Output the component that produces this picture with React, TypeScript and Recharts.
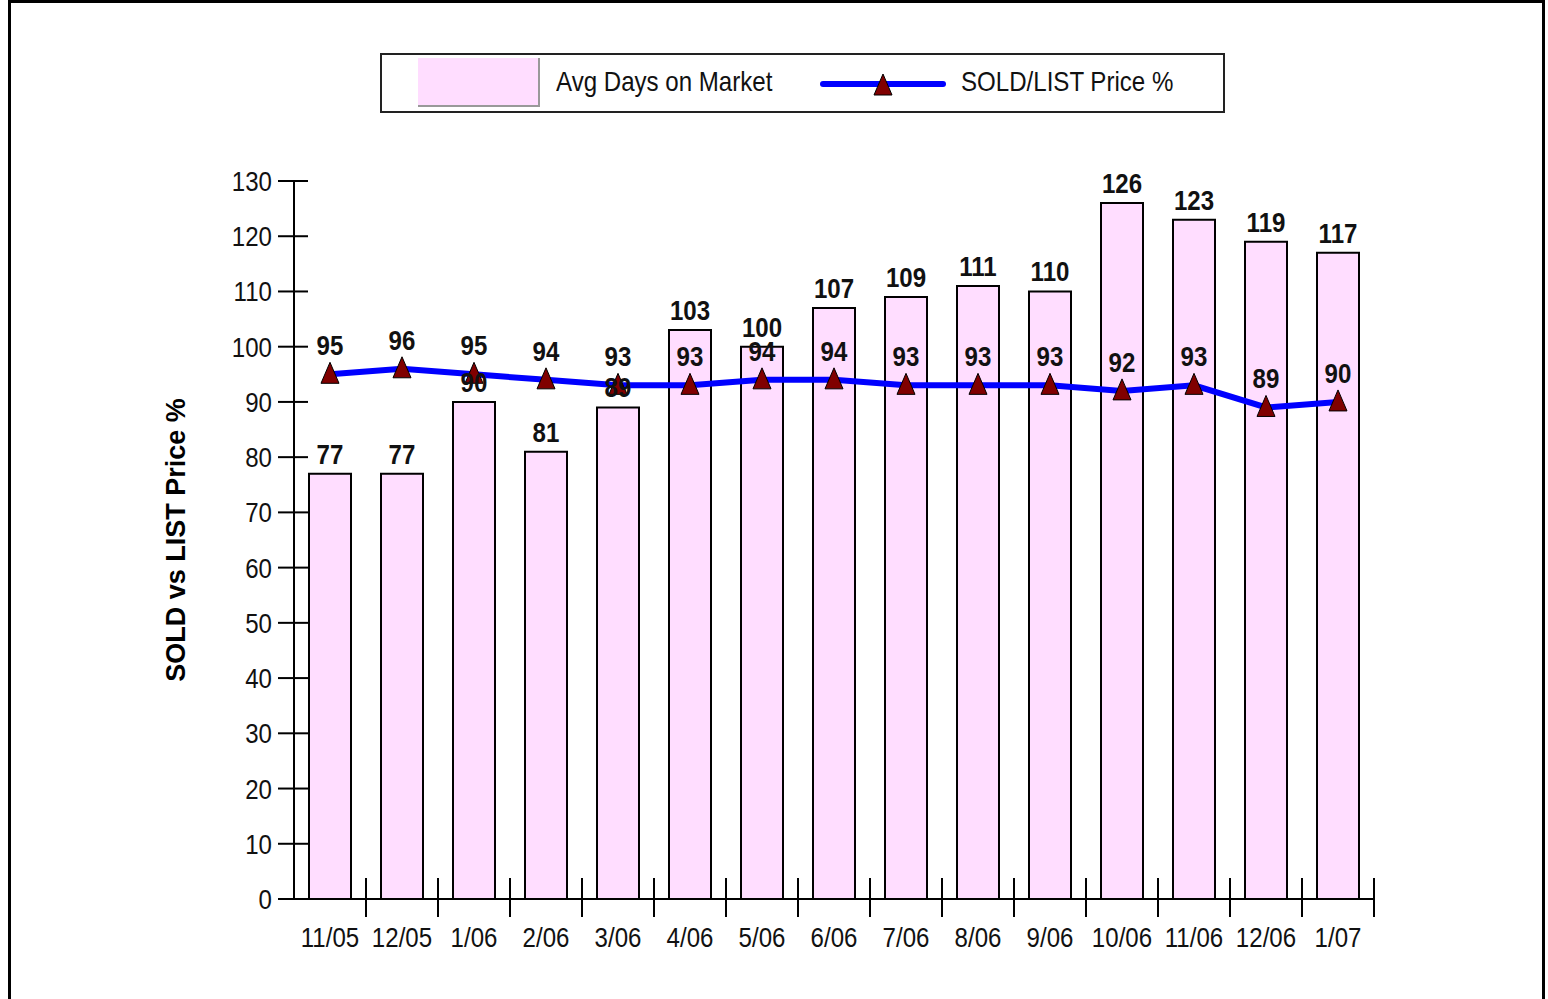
import React from "react";
import { Bar, ComposedChart, LabelList, Legend, Line, XAxis, YAxis } from "recharts";

const CATEGORIES = ["11/05", "12/05", "1/06", "2/06", "3/06", "4/06", "5/06", "6/06", "7/06", "8/06", "9/06", "10/06", "11/06", "12/06", "1/07"];
const DAYS_ON_MARKET = [77, 77, 90, 81, 89, 103, 100, 107, 109, 111, 110, 126, 123, 119, 117];
const SOLD_LIST_PCT = [95, 96, 95, 94, 93, 93, 94, 94, 93, 93, 93, 92, 93, 89, 90];
const Y_TICKS = [0, 10, 20, 30, 40, 50, 60, 70, 80, 90, 100, 110, 120, 130];

const W = 1548;
const H = 999;
const X_AXIS_H = 30;
const MARGIN = { top: 181, right: 174, bottom: 100 - X_AXIS_H, left: 0 };
const Y_AXIS_W = 294;
const PLOT_W = W - MARGIN.left - MARGIN.right - Y_AXIS_W;
const HALF_BAND = PLOT_W / CATEGORIES.length / 2;

// no narrow face installed, so squeeze Arial-metric text horizontally
const FONT = "'Liberation Sans', Arial, sans-serif";
const SQUEEZE = 0.86;
const PINK = "#FFDDFF";
const BLUE = "#0000FF";
const MAROON = "#800000";

const data = CATEGORIES.map((month, i) => ({
  month,
  days: DAYS_ON_MARKET[i],
  pct: SOLD_LIST_PCT[i],
}));

function NText({ x, y, anchor = "middle", bold = false, size = 28, children }: any) {
  return (
    <text
      transform={`translate(${x},${y}) scale(${SQUEEZE},1)`}
      textAnchor={anchor}
      fontFamily={FONT}
      fontWeight={bold ? "bold" : "normal"}
      fontSize={size}
      fill="#111"
    >
      {children}
    </text>
  );
}

function Triangle({ cx, cy }: { cx?: number; cy?: number }) {
  if (cx == null || cy == null) return null;
  return (
    <path
      d={`M${cx},${cy - 12} L${cx + 9},${cy + 9} L${cx - 9},${cy + 9} Z`}
      fill={MAROON}
      stroke="#000"
      strokeWidth={1}
    />
  );
}

function XTick({ x, y, payload }: any) {
  const bx = x + HALF_BAND;
  return (
    <g>
      <line x1={bx} x2={bx} y1={y - 21} y2={y + 18} stroke="#000" strokeWidth={2} />
      <NText x={x} y={y + 48}>{payload.value}</NText>
    </g>
  );
}

function YTick({ x, y, payload }: any) {
  return (
    <g>
      <line x1={x - 16} x2={x + 14} y1={y} y2={y} stroke="#000" strokeWidth={2} />
      <NText x={x - 22} y={y + 10} anchor="end">{payload.value}</NText>
    </g>
  );
}

function BarValue({ x, y, width, value }: any) {
  return <NText x={x + width / 2} y={y - 10} bold>{value}</NText>;
}

function LineValue({ x, y, value }: any) {
  return <NText x={x} y={y - 19} bold>{value}</NText>;
}

function LegendBox() {
  const txt: React.CSSProperties = {
    position: "absolute",
    top: 11,
    lineHeight: "32px",
    whiteSpace: "nowrap",
    transform: `scaleX(${SQUEEZE})`,
    transformOrigin: "left center",
  };
  return (
    <div
      style={{
        width: 845,
        height: 60,
        boxSizing: "border-box",
        border: "2px solid #222",
        background: "#fff",
        position: "relative",
        fontFamily: FONT,
        fontSize: 28,
        color: "#111",
      }}
    >
      <div
        style={{
          position: "absolute",
          left: 36,
          top: 3,
          width: 122,
          height: 49,
          boxSizing: "border-box",
          background: PINK,
          borderRight: "2px solid #999",
          borderBottom: "2px solid #999",
        }}
      />
      <div style={{ ...txt, left: 174 }}>Avg Days on Market</div>
      <svg style={{ position: "absolute", left: 438, top: 10 }} width={126} height={36}>
        <line x1={3} x2={123} y1={19} y2={19} stroke={BLUE} strokeWidth={6} strokeLinecap="round" />
        <Triangle cx={63} cy={21} />
      </svg>
      <div style={{ ...txt, left: 579 }}>SOLD/LIST Price %</div>
    </div>
  );
}

export default function App() {
  return (
    <div style={{ position: "absolute", left: 0, top: 0, width: W, height: H, background: "#fff" }}>
      <div
        style={{
          position: "absolute",
          left: 8,
          top: 0,
          width: 1537,
          height: 1010,
          boxSizing: "border-box",
          border: "3px solid #000",
        }}
      />
      <ComposedChart width={W} height={H} data={data} margin={MARGIN} barSize={42}>
        <XAxis
          dataKey="month"
          height={X_AXIS_H}
          interval={0}
          tickSize={0}
          tickMargin={0}
          tickLine={false}
          axisLine={{ stroke: "#000", strokeWidth: 2 }}
          tick={<XTick />}
        />
        <YAxis
          width={Y_AXIS_W}
          domain={[0, 130]}
          ticks={Y_TICKS}
          interval={0}
          tickSize={0}
          tickMargin={0}
          tickLine={false}
          axisLine={{ stroke: "#000", strokeWidth: 2 }}
          tick={<YTick />}
          label={({ viewBox }: any) => (
            <text
              x={viewBox.x + 176}
              y={viewBox.y + viewBox.height / 2}
              transform={`rotate(-90, ${viewBox.x + 176}, ${viewBox.y + viewBox.height / 2})`}
              textAnchor="middle"
              dominantBaseline="central"
              fontFamily={FONT}
              fontWeight="bold"
              fontSize={27}
              fill="#000"
            >
              SOLD vs LIST Price %
            </text>
          )}
        />
        <Legend
          verticalAlign="middle"
          align="center"
          wrapperStyle={{ left: 380, top: 53, width: 845, height: 60 }}
          content={() => <LegendBox />}
        />
        <Bar dataKey="days" name="Avg Days on Market" fill={PINK} stroke="#000" strokeWidth={2} isAnimationActive={false}>
          <LabelList dataKey="days" content={<BarValue />} />
        </Bar>
        <Line
          dataKey="pct"
          name="SOLD/LIST Price %"
          type="linear"
          stroke={BLUE}
          strokeWidth={6}
          dot={(p: any) => <Triangle key={`d${p.index}`} cx={p.cx} cy={p.cy} />}
          activeDot={false}
          isAnimationActive={false}
        >
          <LabelList dataKey="pct" content={<LineValue />} />
        </Line>
      </ComposedChart>
    </div>
  );
}
